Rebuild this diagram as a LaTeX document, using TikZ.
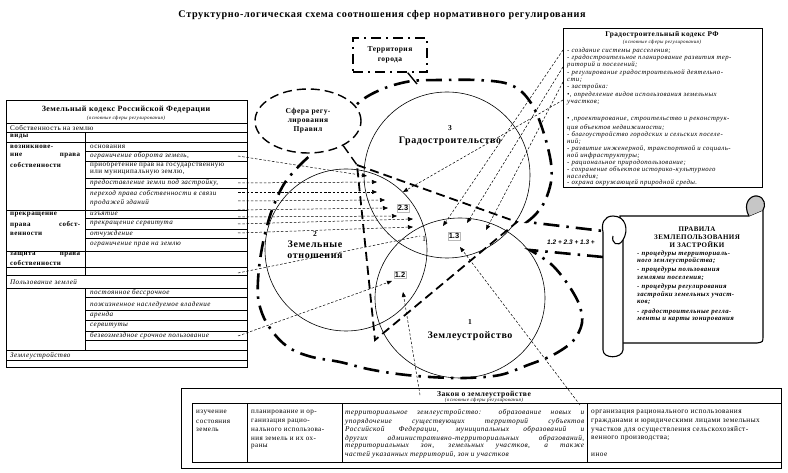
\documentclass[tikz,border=0pt]{standalone}
\usepackage{fontspec}
\setmainfont{Liberation Serif}[LetterSpace=6]
\newfontfamily\numfont{Liberation Sans}
\usetikzlibrary{arrows.meta,shapes.geometric,positioning}

\tikzset{
  zone/.style={line width=2.6pt, dash pattern=on 16pt off 7pt on 2.5pt off 7pt},
  rules/.style={line width=1.8pt, dash pattern=on 9pt off 5pt},
  sphere/.style={line width=0.6pt},
  link/.style={line width=0.5pt, dash pattern=on 2.5pt off 1.8pt, -{Triangle[length=5pt,width=4pt]}},
  cellL/.style={anchor=west, inner sep=0pt, font=\fontsize{7}{7}\selectfont\bfseries},
  cellR/.style={anchor=west, inner sep=0pt, font=\fontsize{7.1}{7}\selectfont\itshape},
  cellU/.style={anchor=west, inner sep=0pt, font=\fontsize{7.1}{7}\selectfont},
  gkline/.style={anchor=west, inner sep=0pt, font=\fontsize{6.8}{7}\selectfont\itshape},
  scline/.style={anchor=west, inner sep=0pt, font=\fontsize{6.8}{7}\selectfont\bfseries\itshape},
  schead/.style={inner sep=0pt, font=\fontsize{7}{7}\selectfont\bfseries},
  numlab/.style={draw=gray!55, line width=0.3pt, inner sep=1pt, font={\numfont\fontsize{7.5}{8}\selectfont\bfseries}},
  bignum/.style={inner sep=0pt, font=\fontsize{7.5}{8}\selectfont\bfseries},
  biglab/.style={inner sep=0pt, align=center, font=\fontsize{10}{11}\selectfont\bfseries}
}

\begin{document}
\begin{tikzpicture}[x=1pt,y=-1pt]
\useasboundingbox (0,0) rectangle (788,473);

% title
\node[font=\fontsize{10.2}{11}\selectfont\bfseries] (title) at (382,15)
  {Структурно-логическая схема соотношения сфер нормативного регулирования};

% three spheres
\draw[sphere] (447,175) circle [radius=83];
\draw[sphere] (346,250) circle [radius=81];
\draw[sphere] (460,298) circle [x radius=85, y radius=80];

% territory of the city
\draw[zone] (603,257) -- (530,250) -- plot[smooth, tension=0.55] coordinates {
  (530,250) (551,264) (567,283) (579,304) (582,323) (573,341) (553,355) (528,365)
  (500,375) (465,378) (430,377) (398,374) (368,369) (340,362) (312,357) (291,349)
  (276,336) (264,318) (258,297) (259,268) (264,238) (272,210) (284,184) (300,165)
  (320,146) (342,120) (362,100) (385,88) (412,81) (445,80) (477,80) (505,83)
  (522,92) (535,110) (545,137) (551,163) (551,182) (545,201) (536,214) (527,222)}
  -- (603,231);

% sphere of the Rules
\coordinate (w1) at (357,165);
\coordinate (w2) at (517,222);
\coordinate (w3) at (375,340);
\draw[rules] (w1) -- (w2) -- (w3) -- cycle;

% links from the land code
\foreach \y/\tx/\ty [count=\i] in {156/367/176, 183/377/182, 192/377/192, 201/385/200,
    210/388/208, 217/397/216, 224/413/219, 233/413/227, 336/392/281}
  {\coordinate (ls\i) at (238,\y);
   \coordinate (lt\i) at (\tx,\ty);
   \draw[link] (ls\i) -- (lt\i);}
\coordinate (ls10) at (238,273);
\coordinate (lt10) at (420,236);
\draw[link, -] (ls10) -- (lt10);

% links from the town-planning code
\foreach \y/\tx/\ty [count=\i] in {50/443/226, 67/467/223, 82/486/230, 100/403/192}
  {\coordinate (gs\i) at (563,\y);
   \coordinate (gt\i) at (\tx,\ty);
   \draw[link] (gs\i) -- (gt\i);}

% links from the land management law
\coordinate (zs1) at (420,395);
\coordinate (zt1) at (403,292);
\draw[link] (zs1) -- (zt1);
\coordinate (zs2) at (580,405);
\coordinate (zt2) at (460,247);
\draw[link] (zs2) -- (zt2);

% bubble and city label
\node[ellipse, draw, fill=white, rules, line width=1.4pt, minimum width=106pt, minimum height=64pt,
  inner sep=0pt, align=center, font=\fontsize{7.5}{9}\selectfont\bfseries] (bub) at (308,121)
  {Сфера регу-\\лирования\\Правил};
\draw[rules, line width=1.4pt] (bub.-35) -- (w1);
\node[draw, fill=white, line width=1.4pt, dash pattern=on 10pt off 5pt on 2pt off 5pt,
  minimum width=74pt, minimum height=34pt, align=center,
  font=\fontsize{7.5}{10}\selectfont\bfseries] (terr) at (390,55) {Территория\\города};
\coordinate (tc) at (417,84);
\draw[line width=1.4pt] (terr.-45) -- (tc);

% sphere labels
\node[bignum] (n3) at (450,128) {3};
\node[biglab] (c3) at (450,141) {Градостроительство};
\node[bignum] (n2) at (315,234) {2};
\node[biglab] (c2) at (315,250) {Земельные\\отношения};
\node[bignum] (n1) at (470,322) {1};
\node[biglab] (c1) at (470,336) {Землеустройство};
\node[inner sep=0pt, font=\fontsize{8}{8}\selectfont] (i1) at (424,239) {1};
\node[numlab] (i23) at (403,208) {2.3};
\node[numlab] (i13) at (454,236) {1.3};
\node[numlab] (i12) at (400,275) {1.2};
\node[inner sep=0pt, font={\numfont\fontsize{6.5}{7}\selectfont\bfseries\itshape}] (sum) at (571,242)
  {1.2 + 2.3 + 1.3 +};

% land code table
\draw[line width=0.9pt] (6,100) rectangle (247,367);
\node[font=\fontsize{8}{8}\selectfont\bfseries, inner sep=0pt] (zk) at (126,110)
  {Земельный кодекс Российской Федерации};
\node[font=\fontsize{5}{5}\selectfont\itshape, inner sep=0pt] (zks) at (126,118)
  {(основные сферы регулирования)};
\foreach \y in {123,132,142,267,275,360}
  \draw[line width=0.5pt] (6,\y) -- (247,\y);
\foreach \y in {210,251,288,350}
  \draw[line width=0.9pt] (6,\y) -- (247,\y);
\foreach \y in {151,161,178,188,218,229,238,297,310,320,331,340}
  \draw[line width=0.4pt] (85,\y) -- (247,\y);
\draw[line width=0.6pt] (85,132) -- (85,275) (85,288) -- (85,350);
\node[cellU] (own) at (10,128) {Собственность на землю};
\node[cellR] (use) at (10,282) {Пользование землей};
\node[cellR] (mgmt) at (10,356) {Землеустройство};
\foreach \y/\t [count=\i] in {137/виды, 147/возникнове-, 156/{\makebox[70pt][s]{ние права}},
    165/собственности, 215/прекращение, 225/{\makebox[70pt][s]{права собст-}}, 234/венности,
    255/{\makebox[70pt][s]{защита права}}, 263/собственности}
  \node[cellL] (kl\i) at (10,\y) {\t};
\foreach \y/\t [count=\i] in {147/основания, 165/{приобретение прав на государственную},
    173/{или муниципальную землю,}}
  \node[cellU] (ku\i) at (90,\y) {\t};
\foreach \y/\t [count=\i] in {156/{ограничение оборота земель,}, 183/{предоставление земли под застройку,},
    194/{переход права собственности в связи}, 203/продажей зданий,
    214/изъятие, 224/прекращение сервитута, 234/отчуждение, 245/ограничение прав на землю,
    293/постоянное бессрочное, 305/пожизненное наследуемое владение, 315/аренда,
    326/сервитуты, 336/безвозмездное срочное пользование}
  \node[cellR] (kr\i) at (90,\y) {\t};

% town-planning code
\draw[line width=0.8pt] (563,28) rectangle (762,187);
\node[font=\fontsize{7.3}{7}\selectfont\bfseries, inner sep=0pt] (gk) at (662,35)
  {Градостроительный кодекс РФ};
\node[font=\fontsize{5}{5}\selectfont\itshape, inner sep=0pt] (gks) at (662,42)
  {(основные сферы регулирования)};
\foreach \y/\t [count=\i] in {50.5/- создание системы расселения;,
    58/- градостроительное планирование развития тер-, 65/риторий и поселений;,
    72.5/- регулирование градостроительной деятельно-, 80/сти;, 87/- застройка:,
    95/{•, определение видов использования земельных}, 103/участков;,
    120/{• ,проектирование, строительство и реконструк-}, 127.5/ция объектов недвижимости;,
    134.5/- благоустройство городских и сельских поселе-, 141.5/ний;,
    148.5/{- развитие инженерной, транспортной и социаль-}, 155.5/ной инфраструктуры;,
    162.5/- рациональное природопользование;, 169.5/- сохранение объектов историко-культурного,
    176.5/наследия;, 183/- охрана окружающей природной среды.}
  \node[gkline] (gl\i) at (567,\y) {\t};

% scroll of the Rules
\draw[line width=1.1pt, fill=white] (620,216) -- (749,216) -- (763,210) -- (763,336)
  .. controls (763,342) .. (757,343) -- (620,343) -- cycle;
\draw[line width=1.1pt, fill=gray!45] (749,216) .. controls (742,203) and (751,195) .. (757,196)
  .. controls (765,197) and (766,206) .. (763,210);
\draw[line width=1.1pt, fill=white] (603,232) -- (603,350) .. controls (603,359) and (622,359) .. (623,350)
  -- (623,240) .. controls (629,230) and (626,216) .. (613,216) .. controls (604,216) and (601,224) .. (603,232);
\draw[line width=1.1pt] (623,240) .. controls (618,248) and (611,243) .. (613,236);
\node[schead] (pr1) at (697,229.5) {ПРАВИЛА};
\node[schead] (pr2) at (697,237) {ЗЕМЛЕПОЛЬЗОВАНИЯ};
\node[schead] (pr3) at (697,244.5) {И ЗАСТРОЙКИ};
\foreach \y/\t [count=\i] in {253.5/- процедуры территориаль-, 261/ного землеустройства;,
    270/- процедуры пользования, 278/землями поселения;, 287/- процедуры регулирования,
    295/застройки земельных участ-, 302.5/ков;, 311.5/- градостроительные регла-,
    319.5/менты и карты зонирования}
  \node[scline] (sl\i) at (637,\y) {\t};

% land management law
\draw[line width=0.9pt] (181,388) rectangle (781,468);
\draw[line width=0.6pt] (192,462) -- (192,403) -- (781,403) (192,462) -- (781,462);
\foreach \x in {247,342,587}
  \draw[line width=0.6pt] (\x,403) -- (\x,462);
\node[font=\fontsize{7.6}{8}\selectfont\bfseries, inner sep=0pt] (zz) at (484,394.5)
  {Закон о землеустройстве};
\node[font=\fontsize{5}{5}\selectfont\itshape, inner sep=0pt] (zzs) at (484,400.5)
  {(основные сферы регулирования)};
\foreach \y/\t [count=\i] in {413/изучение, 421.5/состояния, 430/земель}
  \node[cellU] (za\i) at (196,\y) {\t};
\foreach \y/\t [count=\i] in {413/планирование и ор-, 421.5/ганизация рацио-,
    430/нального использова-, 438.5/ния земель и их ох-, 447/раны}
  \node[cellU] (zb\i) at (251,\y) {\t};
\foreach \y/\t [count=\i] in {413/{\makebox[239pt][s]{территориальное землеустройство: образование новых и}},
    421.5/{\makebox[239pt][s]{упорядочение существующих территорий субъектов}},
    430/{\makebox[239pt][s]{Российской Федерации, муниципальных образований и}},
    438.5/{\makebox[239pt][s]{других административно-территориальных образований,}},
    447/{\makebox[239pt][s]{территориальных зон, земельных участков, а также}},
    455/{частей указанных территорий, зон и участков}}
  \node[cellR, font=\fontsize{7.3}{7}\selectfont\itshape] (zc\i) at (345,\y) {\t};
\foreach \y/\t [count=\i] in {413/организация рационального использования,
    421.5/гражданами и юридическими лицами земельных,
    430/участков для осуществления сельскохозяйст-, 438.5/венного производства;, 455/иное}
  \node[cellU, font=\fontsize{7.3}{7}\selectfont] (zd\i) at (591,\y) {\t};
\end{tikzpicture}
\end{document}
